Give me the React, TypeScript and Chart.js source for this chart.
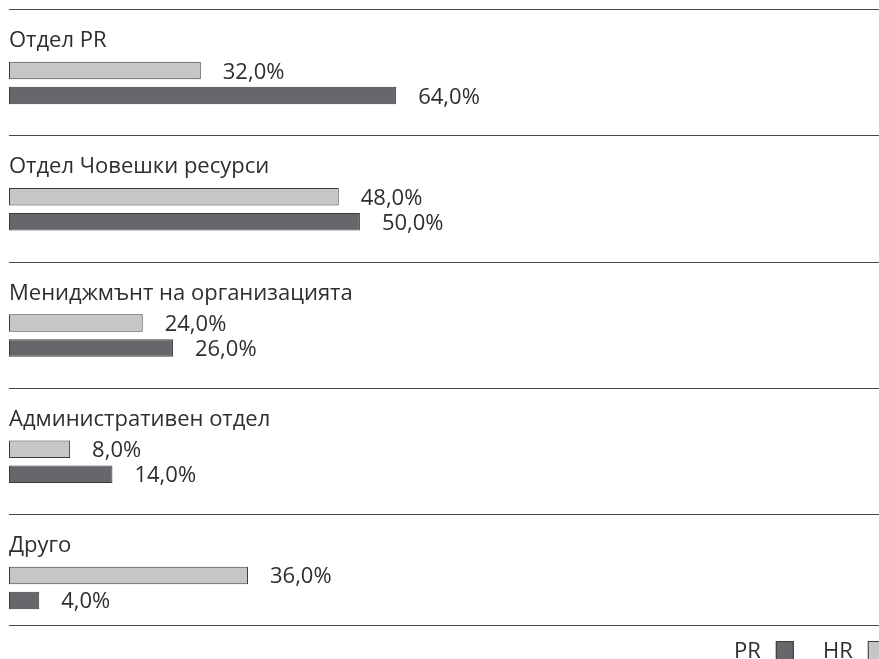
import React, { useEffect, useRef } from "react";
import { Chart, registerables } from "chart.js";

Chart.register(...registerables);

// Categories (top to bottom)
const categories = [
  "Отдел PR",
  "Отдел Човешки ресурси",
  "Мениджмънт на организацията",
  "Административен отдел",
  "Друго",
];

// Printed value labels
const hrLabels = ["32,0%", "48,0%", "24,0%", "8,0%", "36,0%"];
const prLabels = ["64,0%", "50,0%", "26,0%", "14,0%", "4,0%"];

// Bar lengths as drawn in the reference (percent axis; the source figure's
// bars are not strictly proportional to their printed labels)
const hrValues = [31.7, 54.5, 22.1, 10.1, 39.5];
const prValues = [64.0, 58.0, 27.1, 17.1, 5.0];

const seriesNames = ["HR", "PR"];

const HR_FILL = "#c5c6c8";
const PR_FILL = "#67666b";
const BORDER = "#3a3a3a";
const TEXT = "#2e2e2e";
const FONT = '22px "Open Sans", "Noto Sans", sans-serif';

const overlayPlugin = {
  id: "overlay",
  afterDatasetsDraw(chart: any) {
    const { ctx, chartArea } = chart;
    const yScale = chart.scales.y;
    const W = chart.width;
    const left = chartArea.left;
    ctx.save();

    // separator lines
    ctx.strokeStyle = "#4a4a4a";
    ctx.lineWidth = 1;
    const n = categories.length;
    const lineYs: number[] = [];
    for (let i = 0; i < n; i++) lineYs.push(yScale.getPixelForValue(i) - 74);
    lineYs.push(yScale.getPixelForValue(n - 1) + 37);
    lineYs.forEach((y) => {
      const yy = Math.round(y) + 0.5;
      ctx.beginPath();
      ctx.moveTo(left, yy);
      ctx.lineTo(W, yy);
      ctx.stroke();
    });

    // category labels
    ctx.fillStyle = TEXT;
    ctx.font = FONT;
    ctx.textAlign = "left";
    ctx.textBaseline = "alphabetic";
    categories.forEach((c, i) => {
      ctx.fillText(c, left, yScale.getPixelForValue(i) - 36);
    });

    // value labels
    const labelSets = [hrLabels, prLabels];
    chart.data.datasets.forEach((ds: any, di: number) => {
      const meta = chart.getDatasetMeta(di);
      meta.data.forEach((el: any, i: number) => {
        ctx.fillText(labelSets[di][i], el.x + 22, el.y + 8);
      });
    });

    // legend (PR first, then HR), bottom right
    const legendItems = [
      { name: seriesNames[1], fill: PR_FILL },
      { name: seriesNames[0], fill: HR_FILL },
    ];
    const baseY = 658;
    const xs = [734, 823];
    legendItems.forEach((it, k) => {
      const x = xs[k];
      ctx.fillStyle = TEXT;
      ctx.fillText(it.name, x, baseY);
      const tw = ctx.measureText(it.name).width;
      const bx = x + tw + 15;
      ctx.fillStyle = it.fill;
      ctx.fillRect(bx, 641, 18, 18);
      ctx.strokeStyle = BORDER;
      ctx.strokeRect(bx + 0.5, 641.5, 17, 18);
    });

    ctx.restore();
  },
};

export default function App() {
  const ref = useRef<HTMLCanvasElement | null>(null);

  useEffect(() => {
    document.body.style.margin = "0";
    if (!ref.current) return;
    const chart = new Chart(ref.current, {
      type: "bar",
      data: {
        labels: categories,
        datasets: [
          {
            label: seriesNames[0],
            data: hrValues,
            backgroundColor: HR_FILL,
            borderColor: BORDER,
            borderWidth: 1,
            borderSkipped: false,
            categoryPercentage: 0.396,
            barPercentage: 0.7,
          },
          {
            label: seriesNames[1],
            data: prValues,
            backgroundColor: PR_FILL,
            borderColor: BORDER,
            borderWidth: 1,
            borderSkipped: false,
            categoryPercentage: 0.396,
            barPercentage: 0.7,
          },
        ],
      },
      options: {
        indexAxis: "y",
        animation: false,
        responsive: false,
        maintainAspectRatio: false,
        layout: { padding: { left: 9, right: 265, top: 20, bottom: 8 } },
        scales: {
          x: { display: false, min: 0, max: 100 },
          y: { display: false, offset: true },
        },
        plugins: {
          legend: { display: false },
          tooltip: { enabled: false },
        },
      },
      plugins: [overlayPlugin],
    });
    return () => chart.destroy();
  }, []);

  return (
    <div style={{ width: 879, height: 659, position: "relative" }}>
      <canvas ref={ref} width={879} height={659} style={{ display: "block" }} />
    </div>
  );
}
